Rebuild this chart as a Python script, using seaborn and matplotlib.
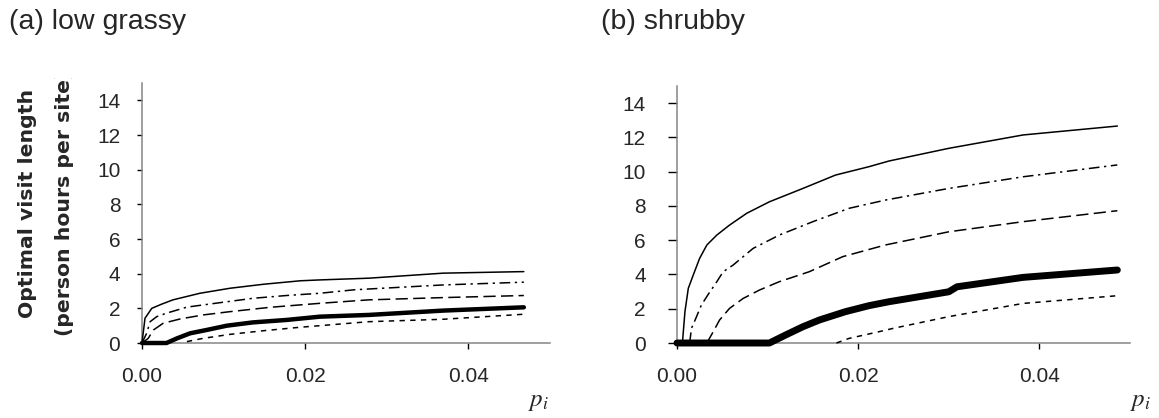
import matplotlib
matplotlib.use('Agg')
import matplotlib.pyplot as plt
import seaborn as sns
from matplotlib.transforms import Bbox, TransformedBbox

# values (p_i vs optimal visit length)
# (a) low grassy
a_solid_x = [0.0, 0.00037, 0.0012, 0.0024, 0.0038, 0.0071, 0.0108, 0.0149, 0.0194, 0.0218, 0.0278, 0.0369, 0.0468]
a_solid_y = [0.0, 1.43, 2.0, 2.24, 2.49, 2.87, 3.16, 3.39, 3.59, 3.64, 3.74, 4.03, 4.12]
a_dashdot_x = [0.0, 0.00057, 0.001, 0.0018, 0.003, 0.0055, 0.0096, 0.0136, 0.0177, 0.0218, 0.026, 0.0369, 0.0468]
a_dashdot_y = [0.0, 0.56, 1.23, 1.52, 1.72, 2.07, 2.33, 2.58, 2.74, 2.87, 3.07, 3.35, 3.51]
a_dash_x = [0.0, 0.00077, 0.0014, 0.0026, 0.0047, 0.0075, 0.0108, 0.0157, 0.0218, 0.0278, 0.0369, 0.0468]
a_dash_y = [0.0, 0.27, 0.75, 1.14, 1.39, 1.62, 1.81, 2.06, 2.29, 2.49, 2.62, 2.74]
a_thick_x = [0.0, 0.003, 0.0043, 0.0059, 0.0079, 0.0104, 0.0136, 0.0177, 0.0218, 0.0278, 0.0369, 0.0468]
a_thick_y = [0.0, 0.0, 0.27, 0.56, 0.75, 1.0, 1.19, 1.33, 1.52, 1.62, 1.87, 2.06]
a_short_x = [0.0055, 0.0075, 0.0108, 0.0149, 0.0194, 0.0218, 0.0278, 0.0369, 0.0468]
a_short_y = [0.08, 0.27, 0.5, 0.71, 0.91, 1.0, 1.23, 1.37, 1.66]

# (b) shrubby
b_solid_x = [0.0006, 0.00088, 0.00125, 0.0018, 0.0025, 0.0033, 0.0044, 0.0058, 0.0077, 0.0102, 0.0139, 0.0175, 0.0212, 0.0234, 0.030, 0.0382, 0.0486]
b_solid_y = [0.0, 1.83, 3.19, 3.97, 4.94, 5.72, 6.3, 6.88, 7.57, 8.24, 9.02, 9.8, 10.29, 10.62, 11.36, 12.14, 12.66]
b_dashdot_x = [0.0014, 0.0016, 0.002, 0.0027, 0.0034, 0.0044, 0.0051, 0.0062, 0.0084, 0.0113, 0.015, 0.019, 0.023, 0.030, 0.0382, 0.0486]
b_dashdot_y = [0.0, 0.86, 1.34, 2.22, 2.8, 3.58, 4.16, 4.55, 5.52, 6.3, 7.08, 7.86, 8.34, 9.02, 9.7, 10.39]
b_dash_x = [0.0033, 0.004, 0.0047, 0.0058, 0.0073, 0.0091, 0.0113, 0.0146, 0.0183, 0.023, 0.030, 0.0382, 0.0486]
b_dash_y = [0.0, 0.66, 1.34, 2.02, 2.6, 3.09, 3.58, 4.16, 5.04, 5.72, 6.49, 7.08, 7.72]
b_thick_x = [0.0, 0.0102, 0.012, 0.0139, 0.0157, 0.0186, 0.0212, 0.0234, 0.030, 0.0309, 0.0382, 0.0486]
b_thick_y = [0.0, 0.0, 0.47, 0.95, 1.34, 1.83, 2.18, 2.41, 2.99, 3.28, 3.83, 4.26]
b_short_x = [0.0176, 0.019, 0.0223, 0.0239, 0.030, 0.0382, 0.0486]
b_short_y = [0.0, 0.27, 0.66, 0.86, 1.54, 2.31, 2.76]

titles = ['(a) low grassy', '(b) shrubby']
xticks = [0.0, 0.02, 0.04]
xticklabels = ['0.00', '0.02', '0.04']
yticks = [0, 2, 4, 6, 8, 10, 12, 14]

sns.set_style('ticks')
plt.rcParams['font.family'] = ['Liberation Sans', 'DejaVu Sans']
plt.rcParams['mathtext.fontset'] = 'stix'

fig = plt.figure(figsize = (11.59, 4.18), dpi = 100)
ax_a = fig.add_axes([0.1225, 0.1794, 0.352, 0.622])
ax_b = fig.add_axes([0.5841, 0.1794, 0.3909, 0.615])

styles = {
    'solid': dict(linestyle = '-', lw = 1.1),
    'dashdot': dict(linestyle = (0, (7, 3, 1.5, 3)), lw = 1.1),
    'dash': dict(linestyle = (0, (8, 3.5)), lw = 1.1),
    'short': dict(linestyle = (0, (3.5, 3.5)), lw = 1.1),
}

series_a = [(a_solid_x, a_solid_y, styles['solid']),
            (a_dashdot_x, a_dashdot_y, styles['dashdot']),
            (a_dash_x, a_dash_y, styles['dash']),
            (a_thick_x, a_thick_y, dict(linestyle = '-', lw = 3.2)),
            (a_short_x, a_short_y, styles['short'])]
series_b = [(b_solid_x, b_solid_y, styles['solid']),
            (b_dashdot_x, b_dashdot_y, styles['dashdot']),
            (b_dash_x, b_dash_y, styles['dash']),
            (b_thick_x, b_thick_y, dict(linestyle = '-', lw = 5)),
            (b_short_x, b_short_y, styles['short'])]

for ax, series, tlen, tpad in [(ax_a, series_a, 3.6, 12), (ax_b, series_b, 6.5, 16)]:
    for xs, ys, st in series:
        sns.lineplot(x = xs, y = ys, ax = ax, color = 'black', sort = False,
                     clip_on = False, zorder = 3, **st)
    ax.set_xlim(0, 0.05)
    ax.set_ylim(0, 15)
    ax.set_xticks(xticks)
    ax.set_xticklabels(xticklabels)
    ax.set_yticks(yticks)
    ax.tick_params(axis = 'y', length = tlen, width = 1, pad = tpad, labelsize = 15, color = 'black')
    ax.tick_params(axis = 'x', length = 4.5, width = 1, pad = 13, labelsize = 15, color = 'black')
    ax.set_xlabel('')
    ax.set_ylabel('')
    sns.despine(ax = ax)
    for s in ['left', 'bottom']:
        ax.spines[s].set_color('#858585')
        ax.spines[s].set_linewidth(1.1)

# panel titles
fig.text(9 / 1159, 1 - 29 / 418, titles[0], fontsize = 20.5, va = 'baseline', ha = 'left')
fig.text(601 / 1159, 1 - 29 / 418, titles[1], fontsize = 20.5, va = 'baseline', ha = 'left')

# p_i axis labels
fig.text(549 / 1159, 1 - 406 / 418, '$p_i$', fontsize = 18, ha = 'right', va = 'baseline')
fig.text(1151 / 1159, 1 - 406 / 418, '$p_i$', fontsize = 18, ha = 'right', va = 'baseline')

# y label, clipped at the top as in the original
clip = TransformedBbox(Bbox([[0, 0], [1, 1 - 78 / 418]]), fig.transFigure)
for xc, txt in [(28, 'Optimal visit length'), (64.5, '(person hours per site)')]:
    t = fig.text(xc / 1159, 1 - 203 / 418, txt, rotation = 90, ha = 'center', va = 'center',
                 fontsize = 14.7, fontweight = 'bold', family = 'DejaVu Sans')
    t.set_clip_box(clip)
    t.set_clip_on(True)

plt.savefig('out.png', dpi = 100)
